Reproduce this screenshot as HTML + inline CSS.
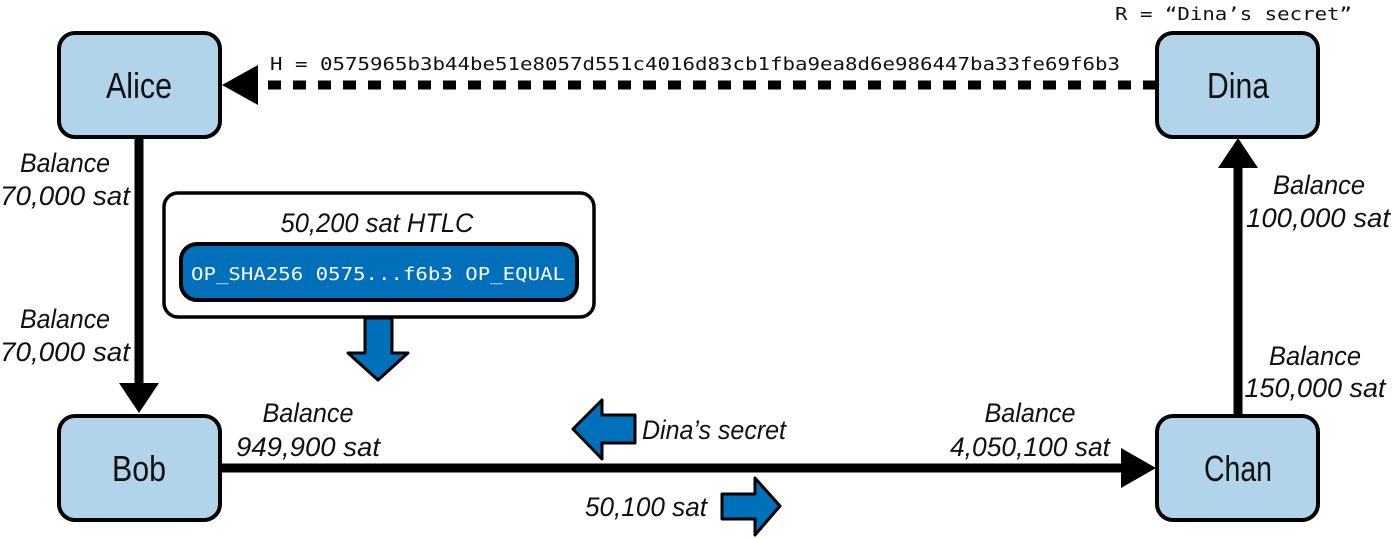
<!DOCTYPE html>
<html><head><meta charset="utf-8"><style>
html,body{margin:0;padding:0;background:#fff;}
svg{display:block;}
.n{font-family:"Liberation Sans",sans-serif;font-size:36px;fill:#111;}
.l{font-family:"Liberation Sans",sans-serif;font-style:italic;font-size:27px;fill:#111;}
.m{font-family:"DejaVu Sans Mono","Liberation Mono",monospace;font-size:18px;fill:#111;}
</style></head><body>
<svg width="1393" height="539" viewBox="0 0 1393 539" xmlns="http://www.w3.org/2000/svg">
<line x1="139" y1="138" x2="139" y2="385" stroke="#000" stroke-width="9"/>
<polygon points="119,383 159,383 139,413" fill="#000"/>
<line x1="221" y1="468" x2="1125" y2="468" stroke="#000" stroke-width="9"/>
<polygon points="1121,448 1121,488 1156,468" fill="#000"/>
<line x1="1238" y1="414" x2="1238" y2="165" stroke="#000" stroke-width="9"/>
<polygon points="1218,168 1258,168 1238,138" fill="#000"/>
<line x1="1156" y1="85" x2="258" y2="85" stroke="#000" stroke-width="9" stroke-dasharray="13,12"/>
<polygon points="258,65 258,105 222,85" fill="#000"/>
<rect x="59" y="33" width="161" height="104" rx="16" fill="#b2d4ea" stroke="#000" stroke-width="4"/>
<rect x="59" y="416" width="161" height="104" rx="16" fill="#b2d4ea" stroke="#000" stroke-width="4"/>
<rect x="1157" y="33" width="161" height="104" rx="16" fill="#b2d4ea" stroke="#000" stroke-width="4"/>
<rect x="1157" y="416" width="161" height="104" rx="16" fill="#b2d4ea" stroke="#000" stroke-width="4"/>
<text class="n" x="139" y="98" text-anchor="middle" textLength="66" lengthAdjust="spacingAndGlyphs">Alice</text>
<text class="n" x="139" y="481" text-anchor="middle" textLength="54" lengthAdjust="spacingAndGlyphs">Bob</text>
<text class="n" x="1238" y="98" text-anchor="middle" textLength="62" lengthAdjust="spacingAndGlyphs">Dina</text>
<text class="n" x="1238" y="481" text-anchor="middle" textLength="68" lengthAdjust="spacingAndGlyphs">Chan</text>
<rect x="164" y="193" width="430" height="124" rx="14" fill="#fff" stroke="#000" stroke-width="3.5"/>
<rect x="181" y="244" width="396" height="56" rx="16" fill="#0070bb" stroke="#000" stroke-width="4"/>
<text class="l" x="377" y="232" text-anchor="middle" textLength="193" lengthAdjust="spacingAndGlyphs">50,200 sat HTLC</text>
<text class="m" x="378" y="280" text-anchor="middle" style="fill:#fff" textLength="374" lengthAdjust="spacingAndGlyphs">OP_SHA256 0575...f6b3 OP_EQUAL</text>
<polygon points="365,318 392,318 392,353 408,353 378,380 348,353 365,353" fill="#0070bb" stroke="#000" stroke-width="3" stroke-linejoin="round"/>
<polygon points="635,415 635,443 602,443 602,459 573,429 602,400 602,415" fill="#0070bb" stroke="#000" stroke-width="3" stroke-linejoin="round"/>
<polygon points="722,494 755,494 755,478 780,506 755,535 755,519 722,519" fill="#0070bb" stroke="#000" stroke-width="3" stroke-linejoin="round"/>
<text class="l" x="642" y="439" textLength="144" lengthAdjust="spacingAndGlyphs">Dina’s secret</text>
<text class="l" x="585" y="516" textLength="122" lengthAdjust="spacingAndGlyphs">50,100 sat</text>
<text class="m" x="270" y="70" textLength="850" lengthAdjust="spacingAndGlyphs">H = 0575965b3b44be51e8057d551c4016d83cb1fba9ea8d6e986447ba33fe69f6b3</text>
<text class="m" x="1115" y="20" textLength="237" lengthAdjust="spacingAndGlyphs">R = “Dina’s secret”</text>
<text class="l" x="65" y="172" text-anchor="middle" textLength="90" lengthAdjust="spacingAndGlyphs">Balance</text>
<text class="l" x="65" y="205" text-anchor="middle" textLength="130" lengthAdjust="spacingAndGlyphs">70,000 sat</text>
<text class="l" x="65" y="328" text-anchor="middle" textLength="90" lengthAdjust="spacingAndGlyphs">Balance</text>
<text class="l" x="65" y="361" text-anchor="middle" textLength="130" lengthAdjust="spacingAndGlyphs">70,000 sat</text>
<text class="l" x="308" y="422" text-anchor="middle" textLength="91" lengthAdjust="spacingAndGlyphs">Balance</text>
<text class="l" x="308" y="456" text-anchor="middle" textLength="144" lengthAdjust="spacingAndGlyphs">949,900 sat</text>
<text class="l" x="1030" y="422" text-anchor="middle" textLength="91" lengthAdjust="spacingAndGlyphs">Balance</text>
<text class="l" x="1030" y="456" text-anchor="middle" textLength="160" lengthAdjust="spacingAndGlyphs">4,050,100 sat</text>
<text class="l" x="1319" y="194" text-anchor="middle" textLength="92" lengthAdjust="spacingAndGlyphs">Balance</text>
<text class="l" x="1318" y="227" text-anchor="middle" textLength="144" lengthAdjust="spacingAndGlyphs">100,000 sat</text>
<text class="l" x="1315" y="365" text-anchor="middle" textLength="92" lengthAdjust="spacingAndGlyphs">Balance</text>
<text class="l" x="1315" y="397" text-anchor="middle" textLength="141" lengthAdjust="spacingAndGlyphs">150,000 sat</text>
</svg>
</body></html>
